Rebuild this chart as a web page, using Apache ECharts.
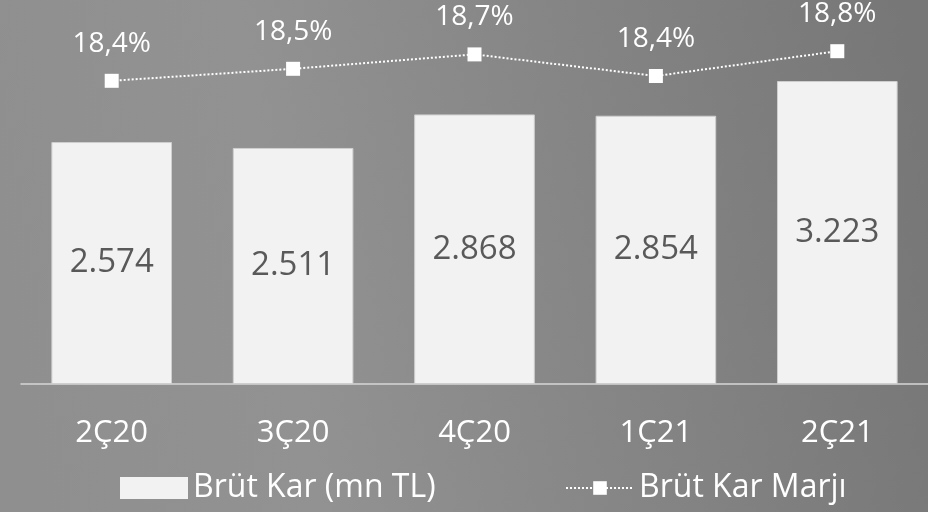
<!DOCTYPE html>
<html>
<head>
<meta charset="utf-8">
<style>
  html, body { margin: 0; padding: 0; }
  #main { width: 928px; height: 512px; }
</style>
<script src="https://cdn.jsdelivr.net/npm/echarts@6/dist/echarts.min.js"></script>
</head>
<body>
<div id="main"></div>
<script>
// veriler
var categories = ['2Ç20', '3Ç20', '4Ç20', '1Ç21', '2Ç21'];
var brutKar = [2574, 2511, 2868, 2854, 3223];
var brutKarMarji = [18.39, 18.54, 18.72, 18.45, 18.76];

(function () {
  var myChart = echarts.init(document.getElementById('main'));
  var font = '"Open Sans", sans-serif';
  var option = {
    // gri arka plan
    backgroundColor: new echarts.graphic.LinearGradient(0, 0.6, 1, 0.3, [
      { offset: 0, color: '#8f8f8f' },
      { offset: 0.3, color: '#929292' },
      { offset: 1, color: '#777777' }
    ]),
    animation: false,
    grid: {
      left: 21,
      right: 0,
      top: 8,
      bottom: 128
    },
    legend: [
      {
        data: [{ name: 'Brüt Kar (mn TL)', icon: 'rect' }],
        left: 120,
        top: 472,
        padding: 0,
        itemWidth: 68,
        itemHeight: 22,
        itemStyle: { borderWidth: 0 },
        textStyle: { color: '#ffffff', fontSize: 32, fontFamily: font }
      },
      {
        data: ['Brüt Kar Marjı'],
        left: 565,
        top: 472,
        padding: 0,
        itemWidth: 68,
        itemHeight: 17,
        textStyle: { color: '#ffffff', fontSize: 32, fontFamily: font }
      }
    ],
    xAxis: {
      type: 'category',
      data: categories,
      axisTick: { show: false },
      axisLine: {
        lineStyle: { color: '#d6d6d6', width: 1.5 }
      },
      axisLabel: {
        color: '#ffffff',
        fontSize: 31,
        fontFamily: font,
        margin: 34
      }
    },
    yAxis: [
      {
        type: 'value',
        min: 0,
        max: 4000,
        show: false
      },
      {
        type: 'value',
        min: 14.6,
        max: 19.3,
        show: false
      }
    ],
    series: [
      {
        name: 'Brüt Kar (mn TL)',
        type: 'bar',
        barWidth: '66.5%',
        data: brutKar,
        itemStyle: {
          color: '#f2f2f2',
          borderColor: '#cfcfcf',
          borderWidth: 1
        },
        label: {
          show: true,
          position: 'inside',
          color: '#595959',
          fontSize: 33,
          fontFamily: font,
          formatter: function (p) {
            return String(p.value).replace(/\B(?=(\d{3})+(?!\d))/g, '.');
          }
        }
      },
      {
        name: 'Brüt Kar Marjı',
        type: 'line',
        yAxisIndex: 1,
        data: brutKarMarji,
        symbol: 'rect',
        symbolSize: 14,
        itemStyle: { color: '#ffffff' },
        lineStyle: {
          color: '#ffffff',
          width: 2,
          type: [2, 2]
        },
        label: {
          show: true,
          position: 'top',
          distance: 16,
          color: '#ffffff',
          fontSize: 28,
          fontFamily: font,
          formatter: function (p) {
            return p.value.toFixed(1).replace('.', ',') + '%';
          }
        }
      }
    ]
  };

  myChart.setOption(option);
})();
</script>
</body>
</html>
